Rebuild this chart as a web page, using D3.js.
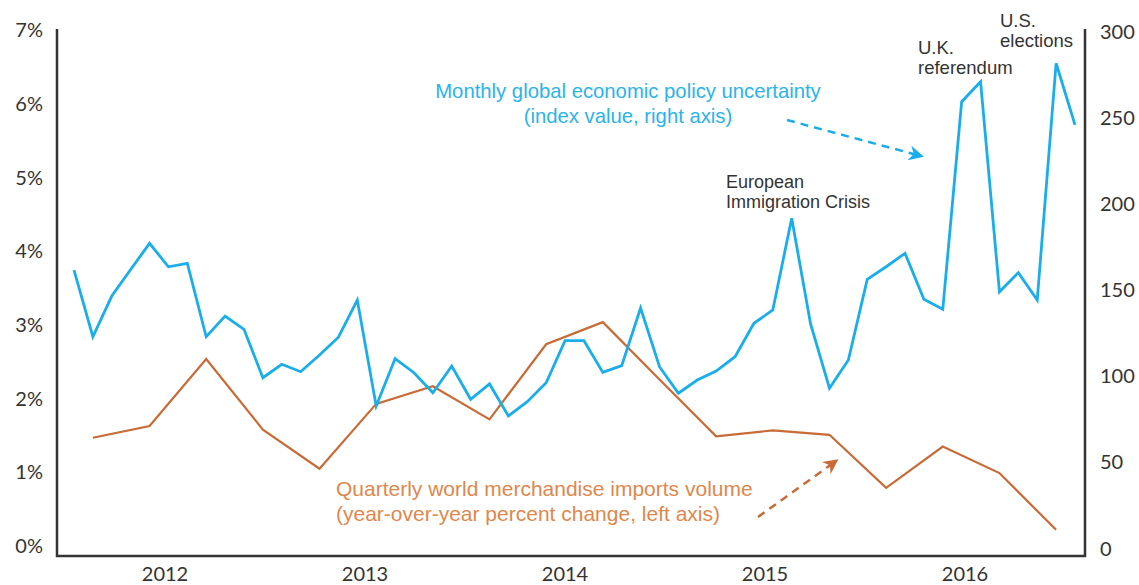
<!DOCTYPE html>
<html>
<head>
<meta charset="utf-8">
<script src="https://cdn.jsdelivr.net/npm/d3@7"></script>
<style>
  body { margin: 0; background: #fff; }
  svg { display: block; }
</style>
</head>
<body>
<div class="chart"></div>
<script>
// monthly categories, Jul 2012 .. Dec 2016
const months = d3.timeMonth.range(new Date(2012, 6, 1), new Date(2017, 0, 1))
    .map(d3.timeFormat("%Y-%m"));

// global economic policy uncertainty index (right axis)
const uncertainty = [161.7, 123, 146.6, 162, 177.2, 163.6, 165.6, 123, 135, 127.3,
    99.2, 107, 102.7, 112.4, 122.7, 144.3, 82.8, 110.3, 102.1, 90.5,
    106, 86.7, 95.6, 77, 85.3, 96.3, 120.7, 120.7, 102.3, 106.2,
    139.7, 105.6, 90.2, 97.9, 103.1, 111.4, 130.8, 138.5, 191.7, 130.4,
    93.1, 109.5, 156.3, 163.6, 171.4, 144.7, 138.9, 259.4, 271, 149.1,
    160.2, 144.3, 281.7, 245.9];

// quarterly imports volume, plotted at the middle month of each quarter (left axis)
const quarters = ["2012-08", "2012-11", "2013-02", "2013-05", "2013-08", "2013-11",
    "2014-02", "2014-05", "2014-08", "2014-11", "2015-02", "2015-05",
    "2015-08", "2015-11", "2016-02", "2016-05", "2016-08", "2016-11"];
const imports = [1.47, 1.63, 2.54, 1.58, 1.05, 1.93, 2.17, 1.72, 2.74, 3.04,
    2.26, 1.49, 1.57, 1.51, 0.79, 1.35, 0.99, 0.22];

const years = ["2012", "2013", "2014", "2015", "2016"];
const leftTicks = [0, 1, 2, 3, 4, 5, 6, 7];
const rightTicks = [0, 50, 100, 150, 200, 250, 300];

const blue = "#19aee9";
const orange = "#c86b36";
const ink = "#333";

const svg = d3.select(".chart")
    .append("svg")
        .attr("width", 1139)
        .attr("height", 585)
        .attr("viewBox", "0 0 1139 585");

const plotLeft = 57, plotRight = 1085, plotTop = 29, plotBottom = 556;

const x = d3.scalePoint()
    .domain(months)
    .range([74, 1075]);

const yearScale = d3.scaleBand()
    .domain(years)
    .range([65, 1065]);

const yLeft = d3.scaleLinear()
    .domain([0, 7])
    .range([546, 30.5]);

const yRight = d3.scaleLinear()
    .domain([0, 300])
    .range([548.7, 31.7]);

// axes (labels only, frame drawn below)
const styleAxis = g => {
    g.select(".domain").remove();
    g.selectAll("text")
        .attr("fill", ink)
        .style("font-family", "Lato, 'Open Sans', sans-serif")
        .style("font-size", "20px");
};

svg.append("g")
    .attr("transform", `translate(${plotLeft},0)`)
    .call(d3.axisLeft(yLeft).tickValues(leftTicks).tickFormat(d => d + "%").tickSize(0).tickPadding(14))
    .call(styleAxis);

svg.append("g")
    .attr("transform", `translate(${plotRight},0)`)
    .call(d3.axisRight(yRight).tickValues(rightTicks).tickSize(0).tickPadding(15))
    .call(styleAxis);

svg.append("g")
    .attr("transform", `translate(0,${plotBottom})`)
    .call(d3.axisBottom(yearScale).tickSize(0).tickPadding(11))
    .call(styleAxis);

// frame
svg.append("path")
    .attr("d", `M${plotLeft},${plotTop}V${plotBottom}H${plotRight}V${plotTop}`)
    .attr("fill", "none")
    .attr("stroke", ink)
    .attr("stroke-width", 2.5);

// lines
const importLine = d3.line()
    .x((d, i) => x(quarters[i]))
    .y(d => yLeft(d));

const uncLine = d3.line()
    .x((d, i) => x(months[i]))
    .y(d => yRight(d));

svg.append("path")
    .datum(imports)
    .attr("class", "imports")
    .attr("d", importLine)
    .attr("fill", "none")
    .attr("stroke", orange)
    .attr("stroke-width", 2.2)
    .attr("stroke-linejoin", "miter");

svg.append("path")
    .datum(uncertainty)
    .attr("class", "uncertainty")
    .attr("d", uncLine)
    .attr("fill", "none")
    .attr("stroke", blue)
    .attr("stroke-width", 2.8)
    .attr("stroke-linejoin", "miter");

// arrow heads
const defs = svg.append("defs");
const addMarker = (id, color) => {
    defs.append("marker")
        .attr("id", id)
        .attr("viewBox", "0 0 10 10")
        .attr("refX", 8)
        .attr("refY", 5)
        .attr("markerUnits", "userSpaceOnUse")
        .attr("markerWidth", 17)
        .attr("markerHeight", 15)
        .attr("orient", "auto")
        .append("path")
            .attr("d", "M0,0L10,5L0,10L3,5Z")
            .attr("fill", color);
};
addMarker("arrow-blue", blue);
addMarker("arrow-orange", orange);

svg.append("line")
    .attr("x1", 787).attr("y1", 120)
    .attr("x2", 921).attr("y2", 156)
    .attr("stroke", blue)
    .attr("stroke-width", 2.5)
    .attr("stroke-dasharray", "8,6")
    .attr("marker-end", "url(#arrow-blue)");

svg.append("line")
    .attr("x1", 758).attr("y1", 517)
    .attr("x2", 836).attr("y2", 461)
    .attr("stroke", orange)
    .attr("stroke-width", 2.5)
    .attr("stroke-dasharray", "8,6")
    .attr("marker-end", "url(#arrow-orange)");

// annotations
const note = (lines, px, py, color, size, anchor, gap) => {
    const t = svg.append("text")
        .attr("fill", color)
        .attr("text-anchor", anchor)
        .style("font-family", "'Liberation Sans', Arial, sans-serif")
        .style("font-size", size + "px");
    lines.forEach((s, i) => {
        t.append("tspan").attr("x", px).attr("y", py + i * gap).text(s);
    });
};

note(["Monthly global economic policy uncertainty", "(index value, right axis)"],
    628, 98, "#2ab4ec", 20.3, "middle", 25);
note(["Quarterly world merchandise imports volume", "(year-over-year percent change, left axis)"],
    336, 496, "#e0874c", 21, "start", 25);
note(["European", "Immigration Crisis"], 726, 188, ink, 18, "start", 20);
note(["U.K.", "referendum"], 918, 54, ink, 18.5, "start", 20);
note(["U.S.", "elections"], 1000, 27, ink, 18.5, "start", 20);
</script>
</body>
</html>
